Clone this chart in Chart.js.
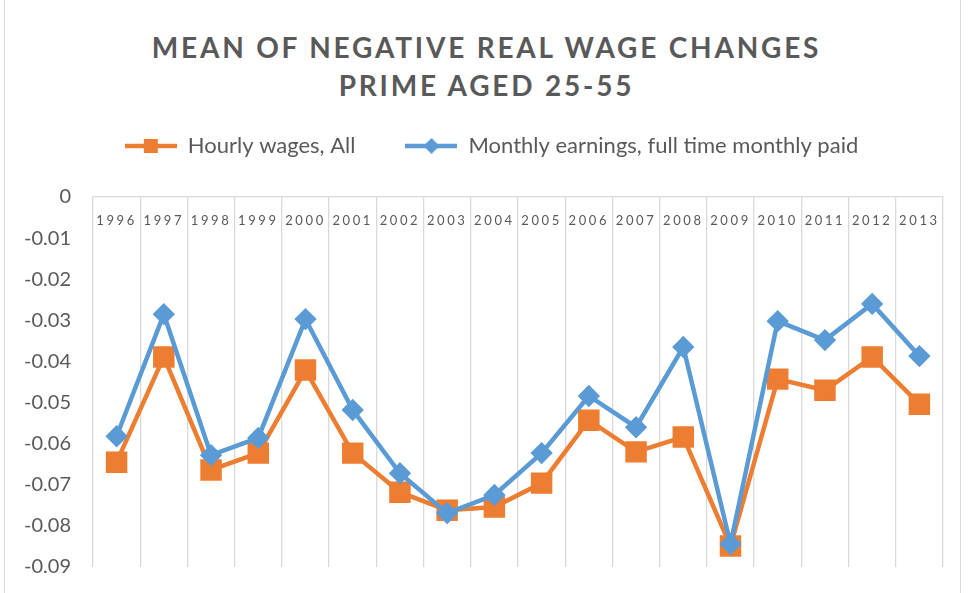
<!DOCTYPE html>
<html>
<head>
<meta charset="utf-8">
<title>Mean of negative real wage changes</title>
<script src="https://cdn.jsdelivr.net/npm/chart.js@4.4.1/dist/chart.umd.min.js"></script>
<style>
  html, body { margin: 0; padding: 0; background: #fff; }
  #wrap { position: relative; width: 973px; height: 593px; overflow: hidden; }
  #frame { position: absolute; left: 4px; top: -2px; width: 955px; height: 600px;
           border-left: 1px solid #d9d9d9; border-right: 1px solid #d9d9d9; }
  #title { position: absolute; left: 0; top: 28px; width: 973px; text-align: center;
           font-family: Lato, sans-serif; font-weight: bold; font-size: 28px;
           line-height: 38px; letter-spacing: 2.8px; color: #595959; }
  #chart { position: absolute; left: 0; top: 0; }
</style>
</head>
<body>
<div id="wrap">
  <div id="frame"></div>
  <div id="title">MEAN OF NEGATIVE REAL WAGE CHANGES<br>PRIME AGED 25-55</div>
  <canvas id="chart" width="973" height="593"></canvas>
</div>
<script>
// chart data
const years = ['1996', '1997', '1998', '1999', '2000', '2001', '2002', '2003', '2004',
               '2005', '2006', '2007', '2008', '2009', '2010', '2011', '2012', '2013'];
const hourlyAll = [-0.0645, -0.0389, -0.0664, -0.0623, -0.0421, -0.0623, -0.0718, -0.0762, -0.0754,
                   -0.0696, -0.0543, -0.0620, -0.0584, -0.0849, -0.0443, -0.0470, -0.0389, -0.0504];
const monthlyFullTime = [-0.0582, -0.0285, -0.0628, -0.0586, -0.0297, -0.0518, -0.0672, -0.0769, -0.0725,
                         -0.0623, -0.0484, -0.0560, -0.0365, -0.0844, -0.0302, -0.0348, -0.0260, -0.0387];
const yMin = -0.09;
const yMax = 0;
const yStep = 0.01;

const ORANGE = '#ED7D31';
const BLUE = '#5B9BD5';
const TEXT = '#595959';
const GRID = '#d9d9d9';

// legend icon: line with marker through it, like the spreadsheet legend
function legendIcon(color, shape) {
    const c = document.createElement('canvas');
    c.width = 52; c.height = 20;
    const g = c.getContext('2d');
    g.strokeStyle = color;
    g.fillStyle = color;
    g.lineWidth = 4.5;
    g.beginPath(); g.moveTo(0, 10); g.lineTo(52, 10); g.stroke();
    if (shape === 'rect') {
        g.fillRect(19, 3, 14, 14);
    } else {
        g.beginPath();
        g.moveTo(26, 2); g.lineTo(34, 10); g.lineTo(26, 18); g.lineTo(18, 10);
        g.closePath(); g.fill();
    }
    return c;
}
const icons = [legendIcon(ORANGE, 'rect'), legendIcon(BLUE, 'diamond')];

// labels may sit outside their own scale box (x labels hang below the top axis line)
function unclip(s) {
    if (s._unclipped) return;
    s._computeLabelArea = () => undefined;
    s._unclipped = true;
}

const ctx = document.getElementById('chart');
new Chart(ctx, {
    type: 'line',
    data: {
        labels: years,
        datasets: [{
            label: 'Hourly wages, All',
            data: hourlyAll,
            borderColor: ORANGE,
            backgroundColor: ORANGE,
            borderWidth: 4.5,
            pointStyle: 'rect',
            pointRadius: 12,
            pointHoverRadius: 12,
            tension: 0,
            order: 1
        }, {
            label: 'Monthly earnings, full time monthly paid',
            data: monthlyFullTime,
            borderColor: BLUE,
            backgroundColor: BLUE,
            borderWidth: 4.5,
            pointStyle: 'rectRot',
            pointRadius: 8,
            pointHoverRadius: 8,
            tension: 0,
            order: 0
        }]
    },
    options: {
        responsive: false,
        animation: false,
        layout: { padding: { top: 85, left: 40, right: 30, bottom: 26 } },
        plugins: {
            title: { display: false },
            tooltip: { enabled: false },
            legend: {
                position: 'top',
                labels: {
                    color: TEXT,
                    font: { family: 'Lato', size: 22 },
                    usePointStyle: true,
                    pointStyleWidth: 52,
                    padding: 50,
                    sort: (a, b) => a.datasetIndex - b.datasetIndex,
                    generateLabels: (chart) => {
                        const items = Chart.defaults.plugins.legend.labels.generateLabels(chart);
                        items.forEach((it) => { it.pointStyle = icons[it.datasetIndex]; });
                        return items;
                    }
                }
            }
        },
        scales: {
            x: {
                position: 'top',
                offset: true,
                grid: { display: true, color: GRID, lineWidth: 1.3, offset: true, drawTicks: false },
                border: { display: true, color: GRID, width: 1.3 },
                ticks: {
                    color: TEXT,
                    font: { family: 'Lato', size: 13 },
                    padding: -32,
                    maxRotation: 0,
                    autoSkip: false
                },
                afterFit: (s) => { s.height = 30; },
                afterUpdate: (s) => {
                    unclip(s);
                    if (s._spaced) return;
                    const orig = s.drawLabels;
                    s.drawLabels = function (area) {
                        this.ctx.save();
                        this.ctx.letterSpacing = '2.6px';
                        orig.call(this, area);
                        this.ctx.restore();
                    };
                    s._spaced = true;
                }
            },
            y: {
                min: yMin,
                max: yMax,
                grid: { display: false, drawTicks: false },
                border: { display: false },
                ticks: {
                    stepSize: yStep,
                    color: TEXT,
                    font: { family: 'Lato', size: 20 },
                    padding: 22,
                    callback: (v) => {
                        const r = Math.round(v * 100) / 100;
                        return r === 0 ? '0' : r.toFixed(2);
                    }
                },
                afterFit: (s) => {
                    s.width = 53;
                    s.paddingTop = 0;
                    s.paddingBottom = 0;
                },
                afterUpdate: unclip
            }
        }
    }
});
</script>
</body>
</html>
